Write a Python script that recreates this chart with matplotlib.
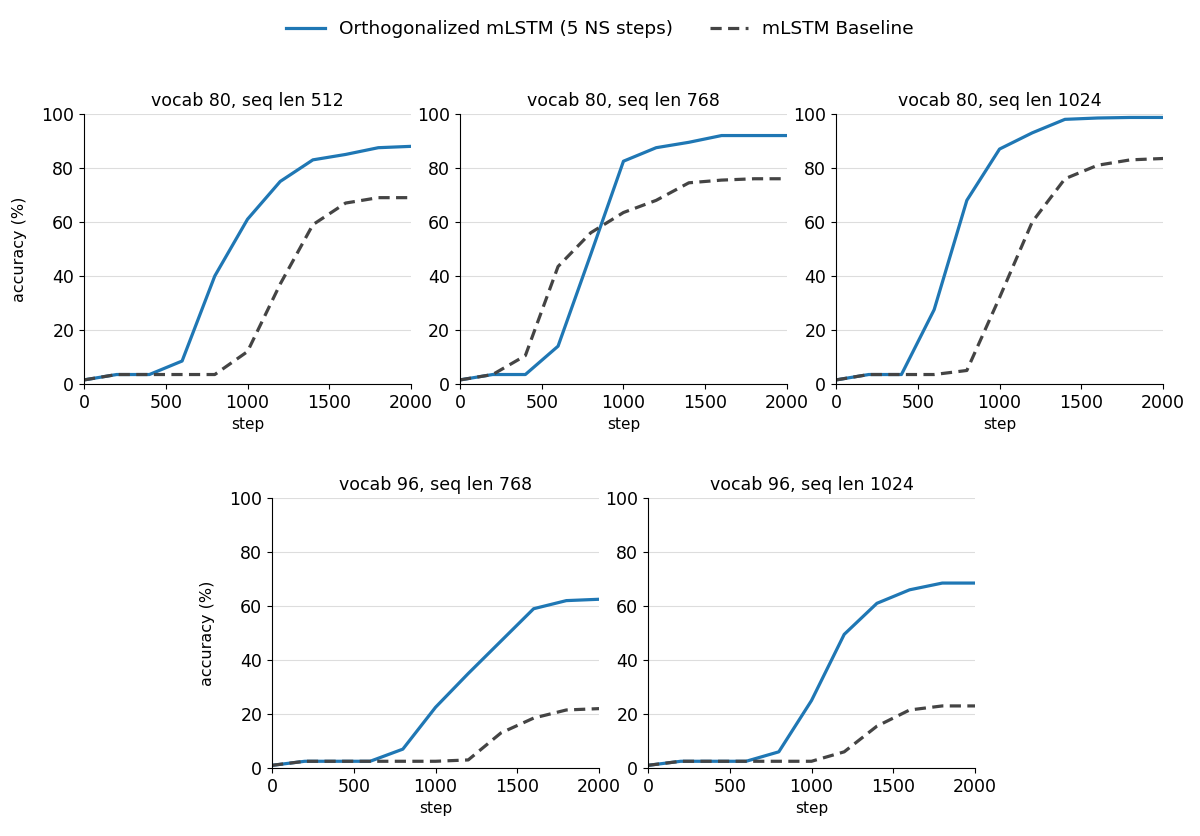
import matplotlib.pyplot as plt
import numpy as np

steps = [0, 200, 400, 600, 800, 1000, 1200, 1400, 1600, 1800, 2000]

titles = [
    "vocab 80, seq len 512",
    "vocab 80, seq len 768",
    "vocab 80, seq len 1024",
    "vocab 96, seq len 768",
    "vocab 96, seq len 1024",
]

ortho_80_512 = [1.5, 3.5, 3.5, 8.5, 40, 61, 75, 83, 85, 87.5, 88]
base_80_512 = [1.5, 3.5, 3.5, 3.5, 3.5, 12, 37, 59, 67, 69, 69]

ortho_80_768 = [1.5, 3.5, 3.5, 14, 48, 82.5, 87.5, 89.5, 92, 92, 92]
base_80_768 = [1.5, 3.5, 10.5, 43.5, 56, 63.5, 68, 74.5, 75.5, 76, 76]

ortho_80_1024 = [1.5, 3.5, 3.5, 27.5, 68, 87, 93, 98, 98.5, 98.7, 98.7]
base_80_1024 = [1.5, 3.5, 3.5, 3.5, 5, 32, 60, 76, 81, 83, 83.5]

ortho_96_768 = [1, 2.5, 2.5, 2.5, 7, 22.5, 35, 47, 59, 62, 62.5]
base_96_768 = [1, 2.5, 2.5, 2.5, 2.5, 2.5, 3, 13, 18.5, 21.5, 22]

ortho_96_1024 = [1, 2.5, 2.5, 2.5, 6, 25, 49.5, 61, 66, 68.5, 68.5]
base_96_1024 = [1, 2.5, 2.5, 2.5, 2.5, 2.5, 6, 15.5, 21.5, 23, 23]

ortho = [ortho_80_512, ortho_80_768, ortho_80_1024, ortho_96_768, ortho_96_1024]
base = [base_80_512, base_80_768, base_80_1024, base_96_768, base_96_1024]

# axes rectangles (left, bottom, width, height) in figure fractions
w, h = 0.2725, 0.323
rects = [
    (0.070, 0.5407, w, h),
    (0.3833, 0.5407, w, h),
    (0.6967, 0.5407, w, h),
    (0.2267, 0.0813, w, h),
    (0.540, 0.0813, w, h),
]

fig = plt.figure(figsize=(12, 8.36), dpi=100)

for i, (t, o, b, r) in enumerate(zip(titles, ortho, base, rects)):
    ax = fig.add_axes(r)
    l1, = ax.plot(steps, o, color="#1f77b4", lw=2.3,
                  label="Orthogonalized mLSTM (5 NS steps)")
    l2, = ax.plot(steps, b, color="#444444", lw=2.3, ls=(0, (3.5, 2)),
                  label="mLSTM Baseline")
    ax.set_xlim(0, 2000)
    ax.set_ylim(0, 100)
    ax.set_xticks([0, 500, 1000, 1500, 2000])
    ax.set_yticks([0, 20, 40, 60, 80, 100])
    ax.yaxis.grid(True, color="#dddddd", lw=0.8)
    ax.set_axisbelow(True)
    for s in ["top", "right"]:
        ax.spines[s].set_visible(False)
    ax.tick_params(labelsize=12.5)
    ax.set_title(t, fontsize=12.5)
    ax.set_xlabel("step", fontsize=11)
    if i in (0, 3):
        ax.set_ylabel("accuracy (%)", fontsize=11.5, labelpad=10)

fig.legend([l1, l2], [l1.get_label(), l2.get_label()], loc="center",
           bbox_to_anchor=(0.5, 0.965), ncol=2, frameon=False, fontsize=13.3,
           handlelength=2.1, handletextpad=0.75, columnspacing=2.0)

fig.savefig("out.png", dpi=100)
